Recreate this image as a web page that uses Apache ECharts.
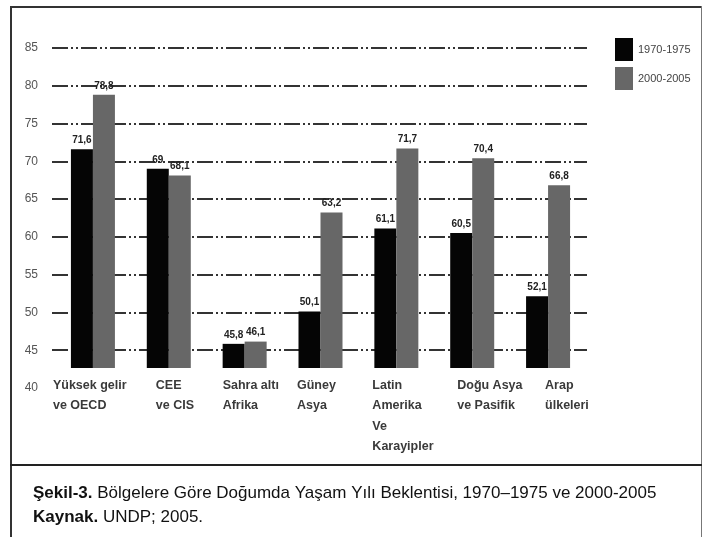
<!DOCTYPE html>
<html>
<head>
<meta charset="utf-8">
<script src="https://cdn.jsdelivr.net/npm/echarts@6/dist/echarts.min.js"></script>
<style>
	html, body { margin: 0; padding: 0; background: #fff; }
	#chart { width: 705px; height: 537px; }
</style>
</head>
<body>
<div id="chart"></div>
<script>
// bölgeler
const regions = ['Yüksek gelir\nve OECD', 'CEE\nve CIS', 'Sahra altı\nAfrika', 'Güney\nAsya', 'Latin\nAmerika\nVe\nKarayipler', 'Doğu Asya\nve Pasifik', 'Arap\nülkeleri'];
// doğumda yaşam beklentisi
const y1970 = [71.6, 69, 45.8, 50.1, 61.1, 60.5, 52.1];
const y2000 = [78.8, 68.1, 46.1, 63.2, 71.7, 70.4, 66.8];
const seriesNames = ['1970-1975', '2000-2005'];
// eksen etiketleri
const yTicks = [40, 45, 50, 55, 60, 65, 70, 75, 80, 85];

const narrow = "'Liberation Sans Narrow', 'Liberation Sans', Arial, sans-serif";
// kategori etiketlerinin sola dayalı kutu genişlikleri
const labelBox = [80, 26, 44, 47, 48, 30, 6];

let rich = {};
labelBox.forEach((w, i) => {
	rich['r' + i] = {
		width: w,
		align: 'left',
		fontFamily: "'Liberation Sans', Arial, sans-serif",
		fontWeight: 'bold',
		fontSize: 12.5,
		lineHeight: 20.5,
		color: '#3a3a3a'
	};
});

function fmt(v) {
	return Number.isInteger(v) ? String(v) : v.toFixed(1).replace('.', ',');
}

let myChart = echarts.init(document.getElementById('chart'));

function barSeries(name, data, color) {
	return {
		name: name,
		type: 'bar',
		xAxisIndex: 0,
		yAxisIndex: 0,
		data: data,
		barWidth: 22,
		barGap: '0%',
		itemStyle: { color: color },
		label: {
			show: true,
			position: 'top',
			distance: 4,
			formatter: p => fmt(p.value),
			fontFamily: narrow,
			fontWeight: 'bold',
			fontSize: 10,
			color: '#222'
		}
	};
}

myChart.setOption({
	animation: false,
	backgroundColor: '#fff',
	legend: {
		orient: 'vertical',
		left: 610,
		top: 33,
		itemWidth: 18,
		itemHeight: 23,
		itemGap: 6,
		icon: 'rect',
		data: seriesNames,
		textStyle: { fontFamily: narrow, fontSize: 11, color: '#444' }
	},
	grid: [
		{ left: 55, right: 119, top: 48, bottom: 169 },
		{ left: 52, right: 118, top: 48, bottom: 149 }
	],
	xAxis: [
		{
			gridIndex: 0,
			type: 'category',
			data: regions,
			axisLine: { show: false },
			axisTick: { show: false },
			axisLabel: {
				interval: 0,
				margin: 7,
				formatter: (v, i) => v.split('\n').map(l => '{r' + i + '|' + l + '}').join('\n'),
				rich: rich
			}
		},
		{ gridIndex: 1, type: 'category', data: regions, show: false }
	],
	yAxis: [
		{ gridIndex: 0, type: 'value', min: 42.6, max: 85, show: false, splitLine: { show: false } },
		{
			gridIndex: 1,
			type: 'value',
			min: yTicks[0],
			max: yTicks[yTicks.length - 1],
			interval: 5,
			axisLine: { show: false },
			axisTick: { show: false },
			axisLabel: {
				margin: 14,
				padding: [0, 0, 10, 0],
				fontFamily: narrow,
				fontSize: 12,
				color: '#555'
			},
			splitLine: {
				show: true,
				showMinLine: false,
				lineStyle: { color: '#333', width: 2, type: [16, 3, 2, 3, 2, 3] }
			}
		}
	],
	series: [
		barSeries(seriesNames[0], y1970, '#050505'),
		barSeries(seriesNames[1], y2000, '#676767')
	],
	graphic: [
		// çerçeve
		{ type: 'rect', shape: { x: 10, y: 6, width: 692, height: 2 }, style: { fill: '#333' } },
		{ type: 'rect', shape: { x: 10, y: 6, width: 2, height: 531 }, style: { fill: '#333' } },
		{ type: 'rect', shape: { x: 701, y: 6, width: 1, height: 531 }, style: { fill: '#777' } },
		{ type: 'rect', shape: { x: 10, y: 464, width: 692, height: 2 }, style: { fill: '#222' } },
		// alt yazı
		{
			type: 'text',
			left: 33,
			top: 485,
			style: {
				text: '{b|Şekil-3.} Bölgelere Göre Doğumda Yaşam Yılı Beklentisi, 1970–1975 ve 2000-2005',
				font: '17px ' + narrow,
				fill: '#111',
				rich: { b: { fontWeight: 'bold', fontSize: 17, fontFamily: narrow, fill: '#111' } }
			}
		},
		{
			type: 'text',
			left: 33,
			top: 509,
			style: {
				text: '{b|Kaynak.} UNDP; 2005.',
				font: '17px ' + narrow,
				fill: '#111',
				rich: { b: { fontWeight: 'bold', fontSize: 17, fontFamily: narrow, fill: '#111' } }
			}
		}
	]
});
</script>
</body>
</html>
